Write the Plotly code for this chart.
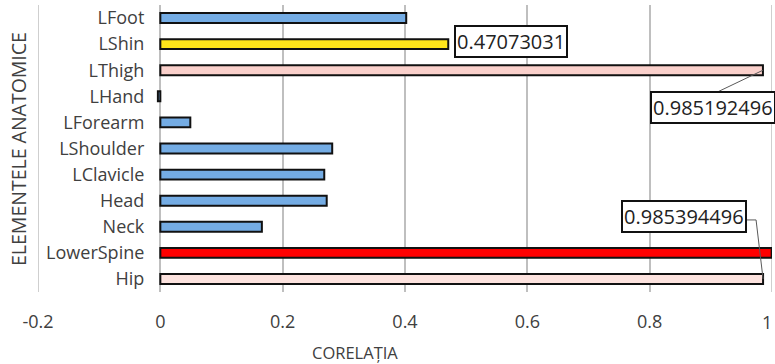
import plotly.graph_objects as go

# Anatomical elements, listed top to bottom
categories = ["LFoot", "LShin", "LThigh", "LHand", "LForearm", "LShoulder",
              "LClavicle", "Head", "Neck", "LowerSpine", "Hip"]
# Correlation per element
correlations = [0.402, 0.47073031, 0.985192496, -0.004, 0.049, 0.281,
                0.268, 0.272, 0.166, 0.9995, 0.985394496]
bar_colors = ["#74ACE4", "#FFE51A", "#FAD0CB", "#74ACE4", "#74ACE4", "#74ACE4",
              "#74ACE4", "#74ACE4", "#74ACE4", "#FF0000", "#FCE2DE"]
x_ticks = [-0.2, 0, 0.2, 0.4, 0.6, 0.8, 1.0]
x_tick_text = ["-0.2", "0", "0.2", "0.4", "0.6", "0.8", "1"]

FONT = "Open Sans"
TEXT = "#404040"
GRID = "#BFBFBF"

fig = go.Figure(go.Bar(
    x=correlations, y=categories, orientation="h", width=0.38,
    marker=dict(color=bar_colors, line=dict(color="#111111", width=2)),
    hoverinfo="x+y",
))

L, R, T, B = 38, 3, 5, 72
W, H = 775, 364
plot_w = W - L - R
plot_h = H - T - B
zero_pos = (0 - x_ticks[0]) / (x_ticks[-1] - x_ticks[0])
label_y = -(322 - (H - B)) / plot_h

# The last tick label sits against the right edge, so it is placed separately,
# right-aligned, instead of being centred on its tick.
axis_text = x_tick_text[:-1] + [""]

fig.update_layout(
    width=W, height=H, margin=dict(l=L, r=R, t=T, b=B, autoexpand=False),
    paper_bgcolor="white", plot_bgcolor="white",
    showlegend=False,
    font=dict(family=FONT, color=TEXT, size=18),
    xaxis=dict(range=[x_ticks[0], x_ticks[-1]], tickvals=x_ticks, ticktext=axis_text,
               showgrid=True, gridcolor=GRID, gridwidth=1.5, zeroline=False,
               showline=False, ticks="", ticklabelstandoff=17, automargin=False,
               ticklabeloverflow="allow", tickfont=dict(size=18, color=TEXT)),
    yaxis=dict(type="category", categoryorder="array", categoryarray=categories,
               range=[len(categories) - 0.5, -0.5], anchor="free", position=zero_pos,
               showgrid=False, zeroline=False, showline=False, ticks="",
               automargin=False,
               ticklabelstandoff=16, tickfont=dict(size=18, color=TEXT)),
)
fig.add_annotation(x=x_ticks[-1], y=label_y, xref="x", yref="paper",
                   text=x_tick_text[-1], xanchor="right", yanchor="middle", xshift=2,
                   showarrow=False, font=dict(size=18, color=TEXT))

# Grid lines at both ends of the value range
for xv in (x_ticks[0], x_ticks[-1]):
    fig.add_shape(type="line", xref="x", yref="paper", x0=xv, x1=xv, y0=0, y1=1,
                  line=dict(color=GRID, width=1.5), layer="below")

# Value call-outs
idx = {c: i for i, c in enumerate(categories)}
box = dict(showarrow=False, bgcolor="white", bordercolor="#111111", borderwidth=2,
           borderpad=1, font=dict(size=20, color="#222222", family=FONT))

shin = correlations[idx["LShin"]]
fig.add_annotation(x=shin, y="LShin", text=f"{shin:.8f}".rstrip("0"),
                   xanchor="left", xshift=6, yshift=3, **box)

thigh = correlations[idx["LThigh"]]
fig.add_annotation(x=thigh, y="LThigh", text=f"{thigh:.9f}",
                   xanchor="center", xshift=-50, yshift=-37, **box)
fig.add_shape(type="path", xref="x", yref="y", xsizemode="pixel", ysizemode="pixel",
              xanchor=thigh, yanchor=idx["LThigh"], path="M 0,0 L -46,-22",
              line=dict(color="#595959", width=1))

hip = correlations[idx["Hip"]]
fig.add_annotation(x=hip, y="Hip", text=f"{hip:.9f}",
                   xanchor="center", xshift=-79, yshift=62, **box)
fig.add_shape(type="path", xref="x", yref="y", xsizemode="pixel", ysizemode="pixel",
              xanchor=hip, yanchor=idx["Hip"], path="M 0,0 L -7,59 L -19,59",
              line=dict(color="#595959", width=1))

# Axis titles
fig.add_annotation(text="CORELAȚIA", xref="paper", yref="paper",
                   x=(355 - L) / plot_w, y=-(352 - (H - B)) / plot_h,
                   xanchor="center", yanchor="middle",
                   showarrow=False, font=dict(size=16.5, color=TEXT))
fig.add_annotation(text="ELEMENTELE ANATOMICE", xref="paper", yref="paper",
                   x=(18 - L) / plot_w, y=1 - (149 - T) / plot_h,
                   xanchor="center", yanchor="middle",
                   textangle=-90, showarrow=False, font=dict(size=19.5, color=TEXT))

fig.write_html("out.html")
